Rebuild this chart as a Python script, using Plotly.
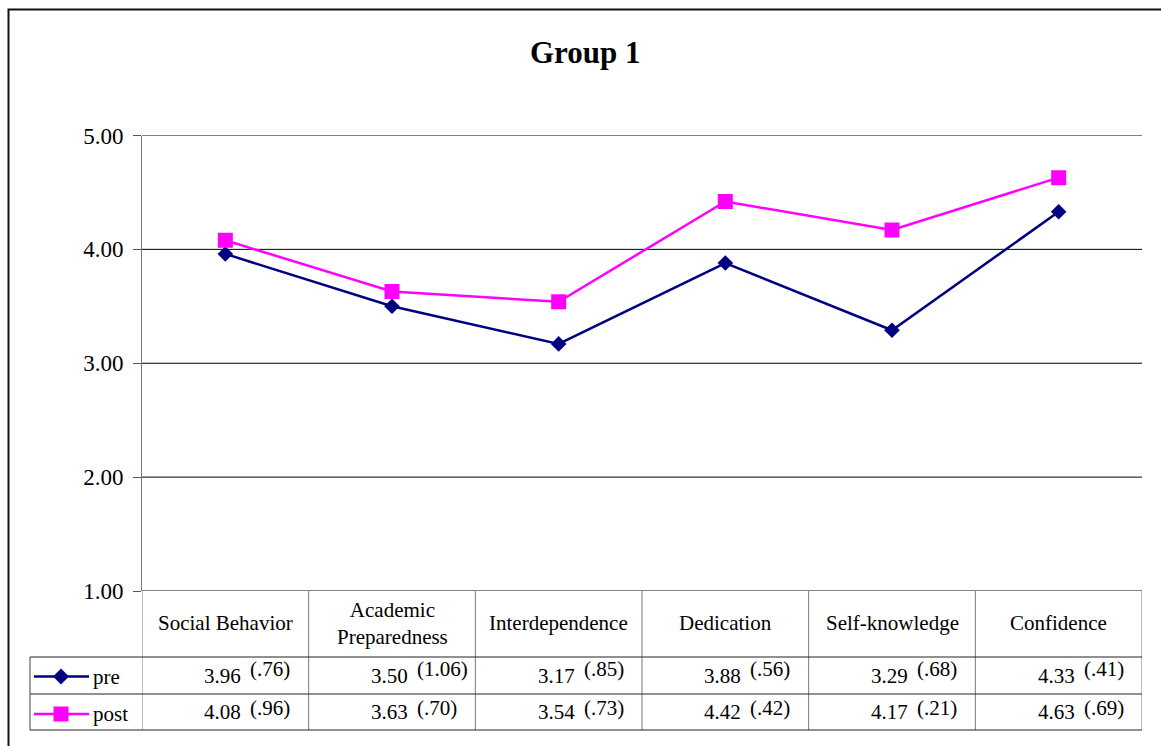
import plotly.graph_objects as go

# ---- data ----
categories = ["Social Behavior", "Academic Preparedness", "Interdependence",
              "Dedication", "Self-knowledge", "Confidence"]
header_labels = ["Social Behavior", "Academic<br>Preparedness", "Interdependence",
                 "Dedication", "Self-knowledge", "Confidence"]
pre_mean = [3.96, 3.50, 3.17, 3.88, 3.29, 4.33]
pre_sd = ["(.76)", "(1.06)", "(.85)", "(.56)", "(.68)", "(.41)"]
post_mean = [4.08, 3.63, 3.54, 4.42, 4.17, 4.63]
post_sd = ["(.96)", "(.70)", "(.73)", "(.42)", "(.21)", "(.69)"]
y_ticks = [1, 2, 3, 4, 5]
series_names = ["pre", "post"]

# ---- layout geometry (pixels) ----
W, H = 1161, 746
PLOT_L, PLOT_R = 142, 1142
PLOT_T, PLOT_B = 135.5, 591
LEG_L = 30
ROW_HEAD_B = 657
ROW_PRE_B = 694
ROW_POST_B = 730

PRE_COLOR = "#000080"
POST_COLOR = "#FF00FF"
FONT = "Liberation Serif, Times New Roman, serif"


def px(x):
    return x / W


def py(y):
    return 1 - y / H


fig = go.Figure()

fig.add_trace(go.Scatter(
    x=categories, y=pre_mean, name=series_names[0], mode="lines+markers",
    line=dict(color=PRE_COLOR, width=2.5),
    marker=dict(symbol="diamond", size=12, color=PRE_COLOR, line=dict(width=0)),
))
fig.add_trace(go.Scatter(
    x=categories, y=post_mean, name=series_names[1], mode="lines+markers",
    line=dict(color=POST_COLOR, width=2.5),
    marker=dict(symbol="square", size=15, color=POST_COLOR, line=dict(width=0)),
))

shapes = []
# outer frame
shapes.append(dict(type="rect", xref="paper", yref="paper",
                   x0=px(8.5), x1=1.05, y0=-0.05, y1=py(9.5),
                   line=dict(color="#111111", width=2)))
# horizontal gridlines (the one at 1.00 is also the table's top edge)
for v in y_ticks:
    shapes.append(dict(type="line", xref="paper", yref="y", layer="below",
                       x0=px(PLOT_L), x1=px(PLOT_R), y0=v, y1=v,
                       line=dict(color="#000000", width=1)))
# column separators of the data table
for i in range(len(categories) + 1):
    shapes.append(dict(type="line", xref="x", yref="paper",
                       x0=i - 0.5, x1=i - 0.5, y0=py(PLOT_B), y1=py(ROW_POST_B),
                       line=dict(color="#7a7a7a", width=1)))
# row separators
for yy in (ROW_HEAD_B, ROW_PRE_B, ROW_POST_B):
    shapes.append(dict(type="line", xref="paper", yref="paper",
                       x0=px(LEG_L), x1=px(PLOT_R), y0=py(yy), y1=py(yy),
                       line=dict(color="#222222", width=1)))
# left edge of legend column
shapes.append(dict(type="line", xref="paper", yref="paper",
                   x0=px(LEG_L), x1=px(LEG_L), y0=py(ROW_HEAD_B), y1=py(ROW_POST_B),
                   line=dict(color="#444444", width=1)))

# legend keys inside the table
pre_row_y = (ROW_HEAD_B + ROW_PRE_B) / 2 + 1
post_row_y = (ROW_PRE_B + ROW_POST_B) / 2 + 2
key_x0, key_x1, key_xc = 34, 89, 61
for yc, col in ((pre_row_y, PRE_COLOR), (post_row_y, POST_COLOR)):
    shapes.append(dict(type="line", xref="paper", yref="paper",
                       x0=px(key_x0), x1=px(key_x1), y0=py(yc), y1=py(yc),
                       line=dict(color=col, width=2.5)))
d = 8
shapes.append(dict(type="path", xref="paper", yref="paper",
                   path=(f"M {px(key_xc - d)} {py(pre_row_y)} L {px(key_xc)} {py(pre_row_y - d)} "
                         f"L {px(key_xc + d)} {py(pre_row_y)} L {px(key_xc)} {py(pre_row_y + d)} Z"),
                   fillcolor=PRE_COLOR, line=dict(width=0)))
s = 7.5
shapes.append(dict(type="rect", xref="paper", yref="paper",
                   x0=px(key_xc - s), x1=px(key_xc + s),
                   y0=py(post_row_y + s), y1=py(post_row_y - s),
                   fillcolor=POST_COLOR, line=dict(width=0)))

annotations = []
# title
annotations.append(dict(text="<b>Group 1</b>", xref="paper", yref="paper",
                        x=px(585), y=py(52), xanchor="center", yanchor="middle",
                        showarrow=False, font=dict(family=FONT, size=31, color="black")))
# legend labels
for label, yc in zip(series_names, (pre_row_y, post_row_y)):
    annotations.append(dict(text=label, xref="paper", yref="paper",
                            x=px(91), y=py(yc), xanchor="left", yanchor="middle",
                            showarrow=False, font=dict(family=FONT, size=21, color="black")))
# category headers
for cat, lab in zip(categories, header_labels):
    annotations.append(dict(text=lab, xref="x", yref="paper", x=cat,
                            y=py((PLOT_B + ROW_HEAD_B) / 2 - 1), xanchor="center",
                            yanchor="middle", showarrow=False,
                            font=dict(family=FONT, size=21, color="black")))
# values and standard deviations
VAL_SHIFT = 18
SD_GAP = 5
for means, sds, yv, ysd in ((pre_mean, pre_sd, 676, 669),
                            (post_mean, post_sd, 712, 708)):
    for cat, m, sd in zip(categories, means, sds):
        annotations.append(dict(text=f"{m:.2f}", xref="x", yref="paper", x=cat,
                                xshift=VAL_SHIFT, y=py(yv), xanchor="right",
                                yanchor="middle", showarrow=False,
                                font=dict(family=FONT, size=21, color="black")))
        annotations.append(dict(text=sd, xref="x", yref="paper", x=cat,
                                xshift=VAL_SHIFT + SD_GAP, y=py(ysd), xanchor="left",
                                yanchor="middle", showarrow=False,
                                font=dict(family=FONT, size=21, color="black")))

fig.update_layout(
    width=W, height=H, autosize=False,
    margin=dict(l=0, r=0, t=0, b=0, pad=0),
    paper_bgcolor="white", plot_bgcolor="white",
    showlegend=False,
    shapes=shapes,
    annotations=annotations,
    xaxis=dict(type="category", categoryorder="array", categoryarray=categories,
               range=[-0.5, len(categories) - 0.5],
               domain=[px(PLOT_L), px(PLOT_R)],
               showgrid=False, showticklabels=False, showline=False,
               zeroline=False, ticks="", fixedrange=True, automargin=False),
    yaxis=dict(range=[1, 5], domain=[py(PLOT_B), py(PLOT_T)],
               tickvals=y_ticks, ticktext=[f"{v:.2f}" for v in y_ticks],
               showgrid=False, zeroline=False,
               showline=True, linecolor="#7a7a7a", linewidth=1,
               ticks="outside", ticklen=8, tickcolor="#555555",
               ticklabelstandoff=5, automargin=False,
               tickfont=dict(family=FONT, size=23, color="black"),
               fixedrange=True),
)

fig.write_html("out.html", config={"responsive": False, "displayModeBar": False})
